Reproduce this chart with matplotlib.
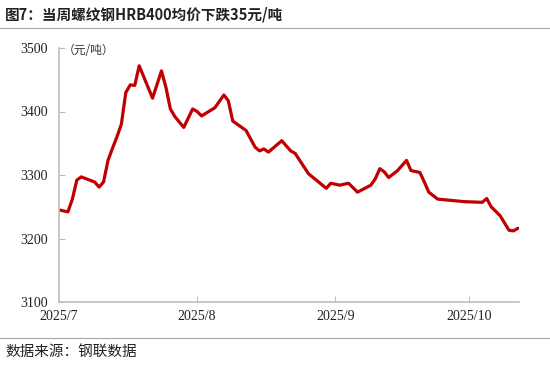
import matplotlib
matplotlib.use("Agg")
import matplotlib.pyplot as plt
import pandas as pd
from matplotlib.lines import Line2D

dates = ["2025-07-01", "2025-07-03", "2025-07-04", "2025-07-05", "2025-07-06",
         "2025-07-09", "2025-07-10", "2025-07-11", "2025-07-12", "2025-07-13",
         "2025-07-14", "2025-07-15", "2025-07-16", "2025-07-17", "2025-07-18",
         "2025-07-19", "2025-07-20", "2025-07-22", "2025-07-24", "2025-07-25",
         "2025-07-26", "2025-07-27", "2025-07-29", "2025-07-31", "2025-08-01",
         "2025-08-02", "2025-08-05", "2025-08-07", "2025-08-08", "2025-08-09",
         "2025-08-12", "2025-08-14", "2025-08-15", "2025-08-16", "2025-08-17",
         "2025-08-20", "2025-08-22", "2025-08-23", "2025-08-26", "2025-08-30",
         "2025-08-31", "2025-09-02", "2025-09-04", "2025-09-06", "2025-09-09",
         "2025-09-10", "2025-09-11", "2025-09-12", "2025-09-13", "2025-09-15",
         "2025-09-17", "2025-09-18", "2025-09-20", "2025-09-21", "2025-09-22",
         "2025-09-24", "2025-09-30", "2025-10-04", "2025-10-05", "2025-10-06",
         "2025-10-08", "2025-10-10", "2025-10-11", "2025-10-12"]
prices = [3245, 3242, 3262, 3292, 3297,
          3289, 3281, 3289, 3323, 3342,
          3360, 3380, 3430, 3442, 3441,
          3472, 3455, 3421, 3464, 3438,
          3404, 3392, 3375, 3404, 3400,
          3393, 3406, 3426, 3417, 3385,
          3370, 3344, 3338, 3341, 3336,
          3354, 3338, 3334, 3302, 3279,
          3287, 3284, 3287, 3273, 3284,
          3294, 3310, 3305, 3296, 3307,
          3323, 3307, 3304, 3289, 3273,
          3262, 3258, 3257, 3263, 3250,
          3236, 3213, 3212, 3216]
month_ticks = ["2025-07-01", "2025-08-01", "2025-09-01", "2025-10-01"]
month_labels = ["2025/7", "2025/8", "2025/9", "2025/10"]
y_ticks = [3100, 3200, 3300, 3400, 3500]

title = "图7：当周螺纹钢HRB400均价下跌35元/吨"
unit = "（元/吨）"
source = "数据来源：钢联数据"

cjk = ["Noto Sans CJK SC", "DejaVu Sans"]
serif = ["Liberation Serif", "DejaVu Serif"]

fig = plt.figure(figsize=(5.5, 3.67), dpi=100)
ax = fig.add_axes([59/550, 1-302/367, (519-59)/550, (302-48)/367])

x = pd.to_datetime(dates)
ax.plot(x, prices, color="#C00000", linewidth=2.3, solid_joinstyle="round",
        solid_capstyle="round")

ax.set_ylim(3100, 3500)
ax.set_xlim(pd.Timestamp("2025-07-01"), pd.Timestamp("2025-10-12 06:00"))
ax.set_yticks(y_ticks)
ax.set_yticklabels([str(v) for v in y_ticks], fontfamily=serif, fontsize=10)
ax.set_xticks(pd.to_datetime(month_ticks))
ax.set_xticklabels(month_labels, fontfamily=serif, fontsize=10)

for s in ["top", "right"]:
    ax.spines[s].set_visible(False)
for s in ["left", "bottom"]:
    ax.spines[s].set_color("#BFBFBF")
    ax.spines[s].set_linewidth(1.2)
ax.tick_params(axis="both", direction="in", length=4, width=0.8, color="#BFBFBF",
               labelcolor="#222222")
ax.tick_params(axis="y", pad=8)
ax.tick_params(axis="x", pad=6)

ax.text(63/550, 1-50/367, unit, transform=fig.transFigure, fontfamily=cjk,
        fontsize=8.5, color="#333333", va="center", ha="left")

fig.text(5/550, 1-15/367, title, fontfamily=cjk, fontsize=10.5,
         fontweight="bold", color="#222222", va="center", ha="left")
fig.add_artist(Line2D([0, 1], [1-28/367, 1-28/367], transform=fig.transFigure,
                      color="#A6A6A6", linewidth=0.8))
fig.add_artist(Line2D([0, 1], [1-338/367, 1-338/367], transform=fig.transFigure,
                      color="#A6A6A6", linewidth=0.8))
fig.text(5/550, 1-352/367, source, fontfamily=cjk, fontsize=10.5,
         color="#222222", va="center", ha="left")

fig.savefig("out.png", dpi=100)
